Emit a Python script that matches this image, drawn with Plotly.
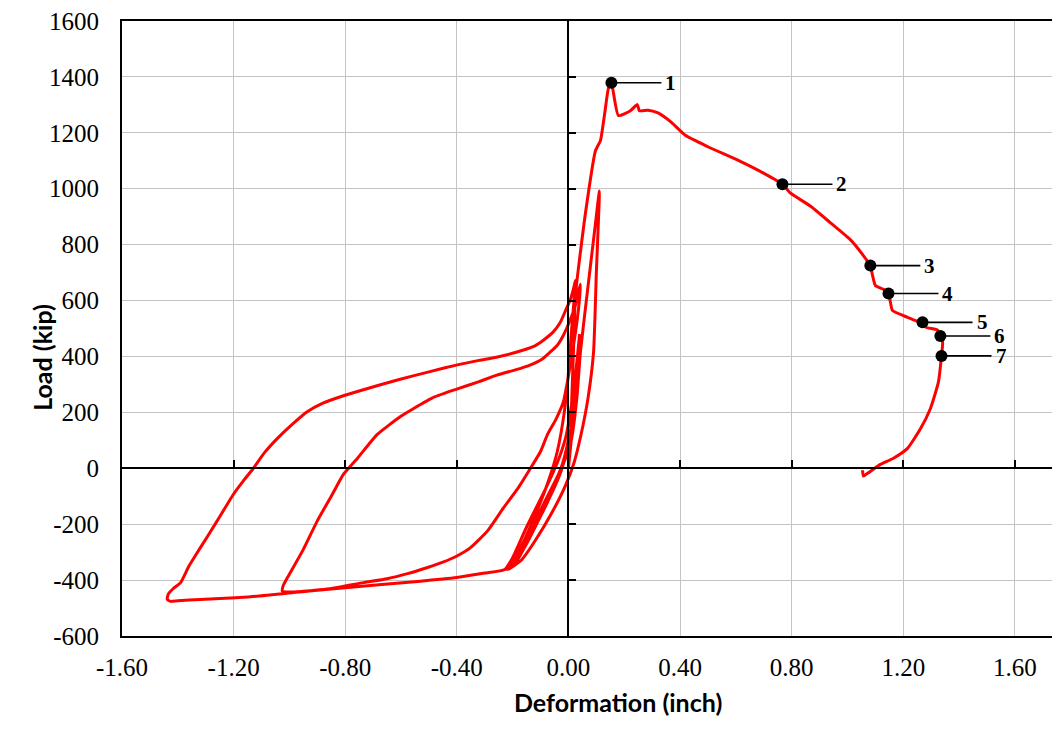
import plotly.graph_objects as go

# ---- data: load-deformation history ----
deformation = [
    0.0, 0.01, 0.02, 0.025,
    0.015, 0.0, -0.03, -0.08, -0.14, -0.19, -0.215,
    -0.2, -0.15, -0.09, -0.04, -0.005, 0.02, 0.035, 0.04,
    0.03, 0.01, -0.02, -0.07, -0.13, -0.18, -0.222,
    -0.2, -0.14, -0.08, -0.03, 0.01, 0.03, 0.043, 0.07, 0.095, 0.111,
    0.108, 0.1, 0.09, 0.07, 0.045, 0.02, -0.01, -0.06, -0.12, -0.17, -0.215,
    -0.19, -0.13, -0.07, -0.025, 0.0, 0.02, 0.035, 0.04,
    0.03, 0.01, -0.01, -0.04, -0.09, -0.15, -0.2, -0.228,
    -0.3, -0.4, -0.54, -0.67, -0.85, -0.95, -1.0, -1.025, -1.022, -1.007,
    -0.95, -0.9, -0.85, -0.806, -0.756, -0.685, -0.602, -0.556, -0.48, -0.398,
    -0.32, -0.254, -0.19, -0.136, -0.095, -0.065, -0.04, -0.018, 0.007, 0.025,
    0.035, 0.043,
    0.04, 0.03, 0.015, 0.0, -0.018, -0.045, -0.075, -0.1, -0.136, -0.18,
    -0.233, -0.29, -0.351, -0.398, -0.45, -0.505, -0.577, -0.65, -0.735, -0.85,
    -1.0, -1.14, -1.25, -1.319, -1.4, -1.427, -1.438, -1.434, -1.416, -1.39,
    -1.36, -1.319, -1.26, -1.2, -1.165, -1.129, -1.09, -1.043, -0.99, -0.935,
    -0.88, -0.817, -0.735, -0.613, -0.5, -0.398, -0.32, -0.254, -0.161, -0.12,
    -0.09, -0.055, -0.029, -0.01, 0.007, 0.02, 0.025,
    0.02, 0.01, 0.0, -0.015, -0.04, -0.07, -0.12, -0.17, -0.22,
    -0.2, -0.14, -0.08, -0.03, 0.005, 0.012, 0.018, 0.025, 0.061, 0.097,
    0.104, 0.115, 0.13, 0.143, 0.154,
    0.179, 0.222, 0.247, 0.254, 0.285, 0.319, 0.366, 0.419, 0.498, 0.616, 0.699,
    0.767, 0.796, 0.867, 0.939, 1.011, 1.057, 1.082, 1.09, 1.1, 1.129,
    1.147, 1.154, 1.161, 1.215, 1.251, 1.269, 1.28, 1.323, 1.333, 1.341,
    1.337, 1.326, 1.297, 1.262, 1.215, 1.165, 1.118, 1.072, 1.057, 1.054,
]
load = [
    0, 100, 220, 300,
    200, 80, -20, -130, -240, -320, -358,
    -350, -270, -150, -40, 60, 200, 350, 420,
    330, 150, 20, -100, -220, -310, -362,
    -345, -240, -120, -10, 100, 250, 416, 650, 860, 992,
    900, 700, 416, 250, 120, 20, -60, -160, -260, -330, -362,
    -340, -230, -110, 0, 80, 230, 400, 480,
    380, 220, 110, 20, -90, -210, -320, -362,
    -375, -391, -405, -416, -432, -440, -443, -440, -419, -391,
    -290, -188, -100, -21, 36, 121, 185, 213, 255, 284,
    310, 334, 352, 370, 390, 416, 440, 476, 533, 583,
    630, 658,
    610, 520, 420, 330, 238, 175, 121, 60, 0, -70,
    -142, -224, -284, -313, -336, -355, -377, -395, -409, -430,
    -446, -460, -466, -469, -474, -476, -468, -450, -430, -409,
    -350, -284, -190, -92, -45, 0, 55, 107, 157, 203,
    233, 256, 281, 316, 345, 370, 386, 398, 423, 438,
    458, 487, 522, 565, 604, 650, 672,
    600, 480, 340, 200, 60, -40, -170, -280, -358,
    -340, -230, -110, -10, 80, 250, 420, 618, 913, 1137,
    1151, 1173, 1270, 1358, 1379,
    1262, 1279, 1301, 1279, 1281, 1272, 1240, 1191, 1151, 1098, 1056,
    1016, 984, 938, 878, 817, 761, 725, 689, 654, 640,
    625, 594, 565, 540, 526, 522, 505, 494, 473, 451,
    402, 309, 213, 142, 71, 36, 14, -18, -28, -7,
]

point_labels = ["1", "2", "3", "4", "5", "6", "7"]
point_def = [0.154, 0.767, 1.082, 1.147, 1.269, 1.333, 1.337]
point_load = [1379, 1016, 725, 625, 522, 473, 402]

x_ticks = [-1.6, -1.2, -0.8, -0.4, 0.0, 0.4, 0.8, 1.2, 1.6]
x_tick_text = ["-1.60", "-1.20", "-0.80", "-0.40", "0.00", "0.40", "0.80", "1.20", "1.60"]
y_ticks = [-600, -400, -200, 0, 200, 400, 600, 800, 1000, 1200, 1400, 1600]
y_tick_text = ["-600", "-400", "-200", "0", "200", "400", "600", "800",
               "1000", "1200", "1400", "1600"]

X_RANGE = [-1.6, 1.733]
Y_RANGE = [-600, 1600]

fig = go.Figure()
fig.add_trace(go.Scatter(
    x=deformation, y=load, mode="lines",
    line=dict(color="#FF0000", width=3, shape="spline", smoothing=0.5),
    hoverinfo="skip", showlegend=False,
))
fig.add_trace(go.Scatter(
    x=point_def, y=point_load, mode="markers",
    marker=dict(color="black", size=12), showlegend=False,
    xaxis="x2", yaxis="y2",
))

for lab, xv, yv in zip(point_labels, point_def, point_load):
    fig.add_annotation(
        x=xv, y=yv, text="<b>" + lab + "</b>", showarrow=True,
        arrowhead=0, arrowwidth=1.6, arrowcolor="black",
        ax=50, ay=0, xanchor="left", borderpad=3, standoff=0,
        font=dict(family="Liberation Serif", size=21, color="black"),
    )

fig.add_annotation(
    xref="paper", yref="paper", x=-0.1043, y=0.4523, text="<b>Load (kip)</b>",
    textangle=-90, showarrow=False,
    font=dict(family="Lato", size=25, color="black"),
)
fig.add_annotation(
    xref="paper", yref="paper", x=0.5333, y=-0.1357, text="<b>Deformation (inch)</b>",
    showarrow=False,
    font=dict(family="Lato", size=25, color="black"),
)

tickfont = dict(family="Liberation Serif", size=25, color="black")
x_zero_pos = (0 - Y_RANGE[0]) / (Y_RANGE[1] - Y_RANGE[0])
y_zero_pos = (0 - X_RANGE[0]) / (X_RANGE[1] - X_RANGE[0])

fig.update_layout(
    width=1044, height=720,
    margin=dict(l=114, r=0, t=9, b=92),
    paper_bgcolor="white", plot_bgcolor="white",
    xaxis=dict(
        range=X_RANGE, tickvals=x_ticks, ticktext=x_tick_text,
        showgrid=True, gridcolor="#C4C4C4", gridwidth=1,
        zeroline=False, showline=True, linecolor="black", linewidth=2,
        mirror=True, ticks="", tickfont=tickfont, ticklabelstandoff=8,
        ticklabeloverflow="allow",
    ),
    yaxis=dict(
        range=Y_RANGE, tickvals=y_ticks, ticktext=y_tick_text,
        showgrid=True, gridcolor="#C4C4C4", gridwidth=1,
        zeroline=False, showline=True, linecolor="black", linewidth=2,
        ticks="", tickfont=tickfont, ticklabelstandoff=16,
        ticklabeloverflow="allow",
    ),
    xaxis2=dict(
        overlaying="x", matches="x", anchor="free", position=x_zero_pos,
        side="bottom", tickvals=x_ticks, showticklabels=False,
        ticks="inside", ticklen=7, tickwidth=2, tickcolor="black",
        showline=True, linecolor="black", linewidth=2,
        showgrid=False, zeroline=False,
    ),
    yaxis2=dict(
        overlaying="y", matches="y", anchor="free", position=y_zero_pos,
        side="left", tickvals=y_ticks, showticklabels=False,
        ticks="inside", ticklen=7, tickwidth=2, tickcolor="black",
        showline=True, linecolor="black", linewidth=2,
        showgrid=False, zeroline=False,
    ),
)

fig.write_html("out.html")
